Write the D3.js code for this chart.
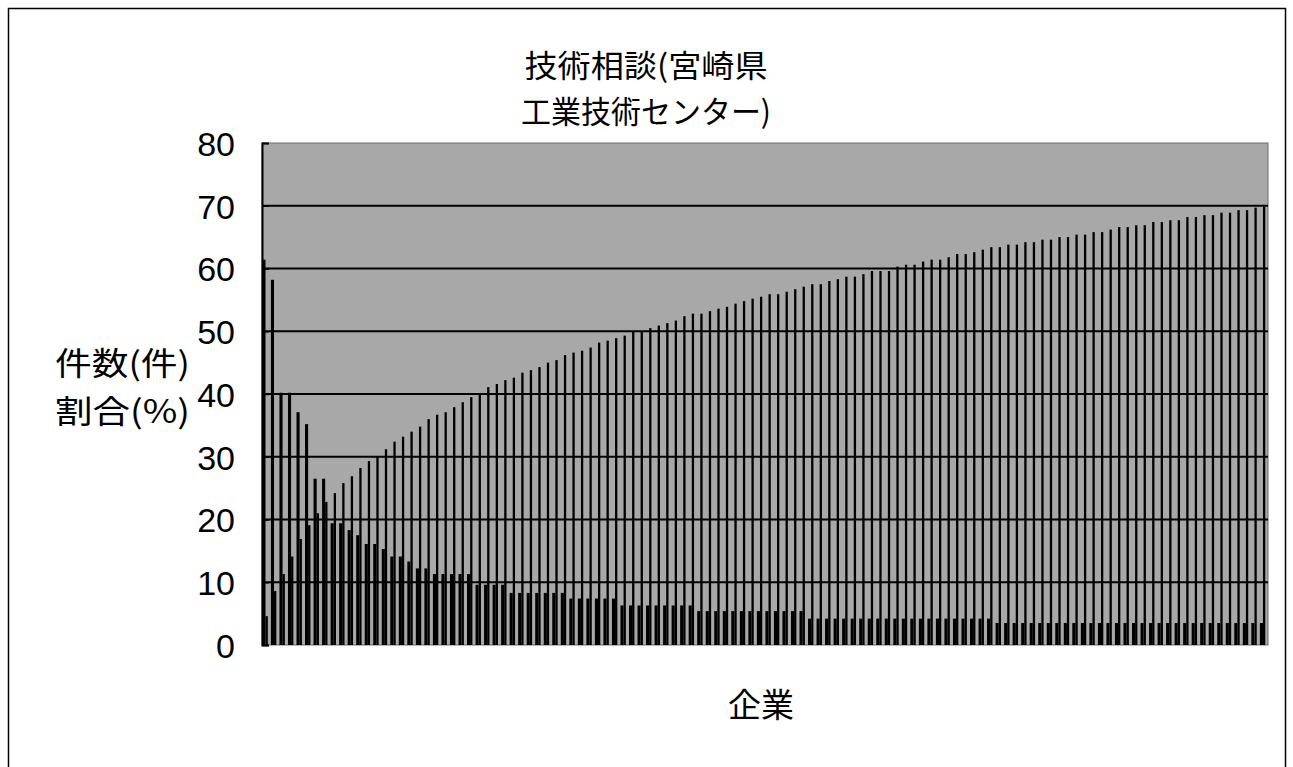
<!DOCTYPE html>
<html>
<head>
<meta charset="utf-8">
<script src="https://d3js.org/d3.v7.min.js"></script>
<style>
  body { margin: 0; background: #fff; }
  .num { font-family: "Liberation Sans", Arial, sans-serif; font-size: 34px; fill: #000; }
  .jp { font-family: "Noto Sans CJK JP", sans-serif; font-size: 31px; fill: #000; }
</style>
</head>
<body>
<svg width="1293" height="767"></svg>
<script>
// 件数 per company (sorted)
const counts = [
  61.4, 58.2, 40.2, 40.2, 37.1, 35.2, 26.5, 26.5, 19.4, 19.4,
  18.3, 17.5, 16.1, 16.1, 15.3, 14.1, 14.1, 13.3, 12.2, 12.2,
  11.3, 11.3, 11.3, 11.3, 11.3, 9.6, 9.6, 9.6, 9.6, 8.3,
  8.3, 8.3, 8.3, 8.3, 8.3, 8.3, 7.4, 7.4, 7.4, 7.4,
  7.4, 7.4, 6.3, 6.3, 6.3, 6.3, 6.3, 6.3, 6.3, 6.3,
  6.3, 5.4, 5.4, 5.4, 5.4, 5.4, 5.4, 5.4, 5.4, 5.4,
  5.4, 5.4, 5.4, 5.4, 4.2, 4.2, 4.2, 4.2, 4.2, 4.2,
  4.2, 4.2, 4.2, 4.2, 4.2, 4.2, 4.2, 4.2, 4.2, 4.2,
  4.2, 4.2, 4.2, 4.2, 4.2, 4.2, 3.5, 3.5, 3.5, 3.5,
  3.5, 3.5, 3.5, 3.5, 3.5, 3.5, 3.5, 3.5, 3.5, 3.5,
  3.5, 3.5, 3.5, 3.5, 3.5, 3.5, 3.5, 3.5, 3.5, 3.5,
  3.5, 3.5, 3.5, 3.5, 3.5, 3.5, 3.5, 3.5
];

// 累積割合 (%)
const cumShare = [
  4.6, 8.6, 11.3, 14.1, 16.9, 19.1, 21.0, 22.8, 24.2, 25.8,
  26.9, 28.2, 29.3, 30.1, 31.2, 32.4, 33.2, 34.0, 34.8, 36.0,
  36.7, 37.1, 37.9, 38.7, 39.5, 40.0, 41.1, 41.6, 42.2, 42.6,
  43.4, 43.8, 44.3, 45.0, 45.4, 46.2, 46.6, 46.9, 47.4, 48.2,
  48.5, 48.9, 49.3, 49.9, 49.9, 50.5, 50.9, 51.3, 51.7, 52.4,
  52.8, 52.8, 53.2, 53.6, 53.9, 54.4, 54.8, 55.2, 55.5, 55.9,
  55.9, 56.3, 56.7, 57.1, 57.5, 57.5, 58.0, 58.3, 58.7, 58.7,
  59.1, 59.6, 59.6, 59.6, 60.3, 60.6, 60.6, 61.1, 61.4, 61.4,
  61.8, 62.3, 62.3, 62.6, 63.0, 63.4, 63.4, 63.8, 63.8, 64.2,
  64.2, 64.6, 64.6, 65.0, 65.0, 65.4, 65.4, 65.8, 65.8, 66.2,
  66.6, 66.6, 66.9, 66.9, 67.4, 67.4, 67.7, 67.7, 68.2, 68.2,
  68.5, 68.5, 68.9, 68.9, 69.3, 69.3, 69.7, 69.9
];

const yTicks = [0, 10, 20, 30, 40, 50, 60, 70, 80];
const titleLines = ["技術相談(宮崎県", "工業技術センター)"];
const yTitleLines = ["件数(件)", "割合(%)"];
const xTitle = "企業";

const svg = d3.select("svg");
const plotLeft = 262, plotRight = 1268, plotTop = 143, plotBottom = 645;

// outer frame
svg.append("rect")
  .attr("x", 8.5).attr("y", 8.5)
  .attr("width", 1277).attr("height", 780)
  .attr("fill", "none").attr("stroke", "#000").attr("stroke-width", 1.5);

const x = d3.scaleBand()
  .domain(counts.map((d, i) => i))
  .range([plotLeft, plotRight]);

const y = d3.scaleLinear().domain([0, 80]).range([plotBottom, plotTop]);

// plot area
svg.append("rect")
  .attr("x", plotLeft).attr("y", plotTop)
  .attr("width", plotRight - plotLeft).attr("height", plotBottom - plotTop)
  .attr("fill", "#a8a8a8").attr("stroke", "#6e6e6e").attr("stroke-width", 1);

// gridlines
svg.append("g")
  .selectAll("line")
  .data(yTicks.filter(d => d > 0 && d < 80))
  .join("line")
  .attr("x1", plotLeft).attr("x2", plotRight)
  .attr("y1", d => y(d)).attr("y2", d => y(d))
  .attr("stroke", "#000").attr("stroke-width", 2);

// count bars
svg.append("g")
  .selectAll("rect")
  .data(counts)
  .join("rect")
  .attr("x", (d, i) => x(i) + 0.4)
  .attr("width", 3.1)
  .attr("y", d => y(d))
  .attr("height", d => y(0) - y(d))
  .attr("fill", "#000");

// cumulative share bars
svg.append("g")
  .selectAll("rect")
  .data(cumShare)
  .join("rect")
  .attr("x", (d, i) => x(i) + 3.5)
  .attr("width", 2.3)
  .attr("y", d => y(d))
  .attr("height", d => y(0) - y(d))
  .attr("fill", "#000");

// y axis
const yAxis = svg.append("g")
  .attr("transform", `translate(${plotLeft},0)`)
  .call(d3.axisLeft(y).tickValues(yTicks).tickSize(-7).tickPadding(27));
yAxis.select(".domain").attr("stroke", "#000").attr("stroke-width", 2);
yAxis.selectAll(".tick line").attr("stroke", "#000").attr("stroke-width", 1.5);
yAxis.attr("font-family", null).attr("font-size", null);
yAxis.selectAll("text")
  .attr("class", "num")
  .attr("dy", "0.36em");

// chart title
svg.append("g")
  .selectAll("text")
  .data(titleLines)
  .join("text")
  .attr("class", "jp")
  .attr("text-anchor", "middle")
  .attr("dominant-baseline", "central")
  .attr("x", 646)
  .attr("y", (d, i) => 63 + i * 46)
  .attr("textLength", (d, i) => i === 0 ? 243 : 250)
  .attr("lengthAdjust", "spacingAndGlyphs")
  .text(d => d);

// y axis title
svg.append("g")
  .selectAll("text")
  .data(yTitleLines)
  .join("text")
  .attr("class", "jp")
  .style("font-size", "32px")
  .attr("dominant-baseline", "central")
  .attr("x", 55)
  .attr("y", (d, i) => 361 + i * 48)
  .attr("textLength", 135)
  .attr("lengthAdjust", "spacingAndGlyphs")
  .text(d => d);

svg.append("text")
  .attr("class", "jp")
  .style("font-size", "33px")
  .attr("text-anchor", "middle")
  .attr("dominant-baseline", "central")
  .attr("x", 761)
  .attr("y", 703)
  .text(xTitle);
</script>
</body>
</html>
